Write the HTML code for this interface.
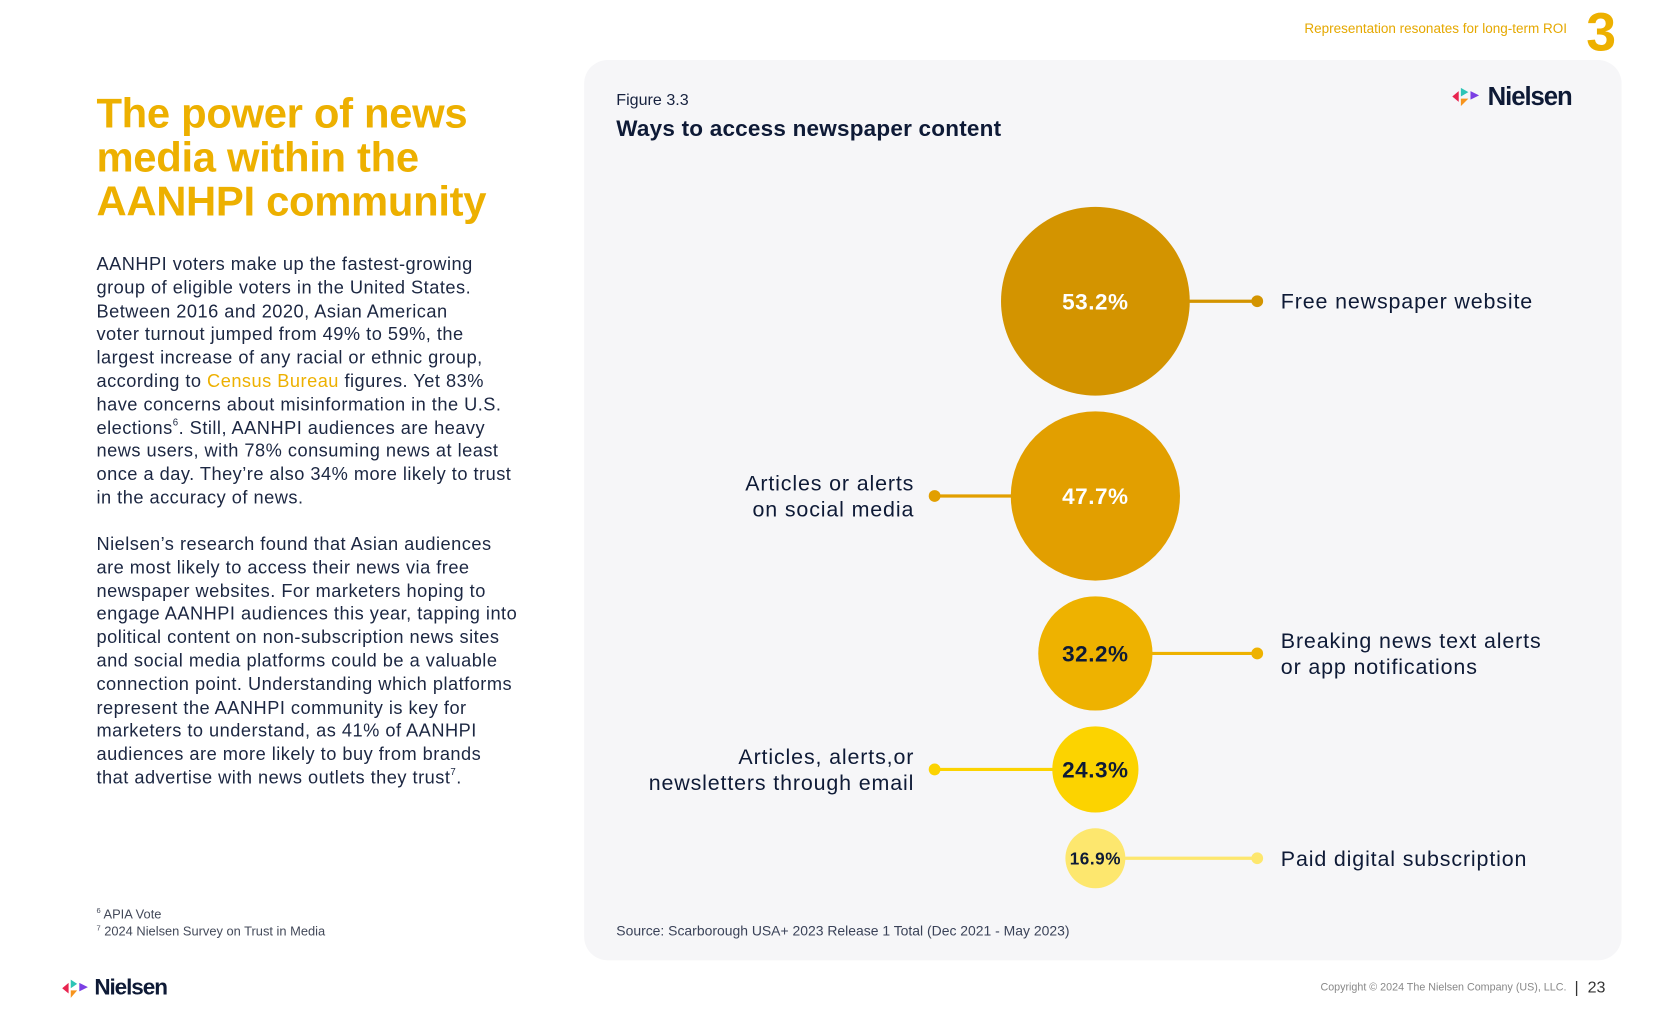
<!DOCTYPE html>
<html><head><meta charset="utf-8">
<style>
html,body{margin:0;padding:0;background:#fff;width:1680px;height:1020px;overflow:hidden}
#wrap{position:absolute;left:0;top:0;width:1568px;height:952px;transform:scale(1.0718);transform-origin:0 0;font-family:"Liberation Sans",sans-serif;color:#16213e}
.abs{position:absolute;white-space:nowrap}
.title{left:90px;top:86px;font-size:39px;font-weight:bold;color:#EDB000;line-height:41px;letter-spacing:-0.3px}
.body{left:90px;font-size:17px;line-height:21.8px;color:#1c2742;letter-spacing:0.45px}
.body sup{font-size:9px;line-height:0;position:relative;top:-1px}
.fn{left:90px;font-size:12px;color:#444a5a;line-height:16px}
.fn sup{line-height:0}
.card{position:absolute;left:545px;top:56px;width:968px;height:840px;background:#f6f6f8;border-radius:22px}
.logo{position:absolute;font-weight:bold;color:#0e1a36;letter-spacing:-1px}
</style></head><body>
<div id="wrap">
  <div class="abs" style="left:1217px;top:20px;font-size:12.6px;color:#E5A800">Representation resonates for long-term ROI</div>
  <div class="abs" style="left:1480px;top:1px;font-size:50px;font-weight:bold;color:#EDB000">3</div>

  <div class="abs title">The power of news<br>media within the<br>AANHPI community</div>

  <div class="abs body" style="top:236px">AANHPI voters make up the fastest-growing<br>group of eligible voters in the United States.<br>Between 2016 and 2020, Asian American<br>voter turnout jumped from 49% to 59%, the<br>largest increase of any racial or ethnic group,<br>according to <span style="color:#EDB000">Census Bureau</span> figures. Yet 83%<br>have concerns about misinformation in the U.S.<br>elections<sup>6</sup>. Still, AANHPI audiences are heavy<br>news users, with 78% consuming news at least<br>once a day. They’re also 34% more likely to trust<br>in the accuracy of news.</div>

  <div class="abs body" style="top:497px">Nielsen’s research found that Asian audiences<br>are most likely to access their news via free<br>newspaper websites. For marketers hoping to<br>engage AANHPI audiences this year, tapping into<br>political content on non-subscription news sites<br>and social media platforms could be a valuable<br>connection point. Understanding which platforms<br>represent the AANHPI community is key for<br>marketers to understand, as 41% of AANHPI<br>audiences are more likely to buy from brands<br>that advertise with news outlets they trust<sup>7</sup>.</div>

  <div class="abs fn" style="top:845px"><sup style="font-size:7px">6</sup> APIA Vote<br><sup style="font-size:7px">7</sup> 2024 Nielsen Survey on Trust in Media</div>

  <div class="abs" style="left:58px;top:910px">
    <svg width="30" height="24" style="position:absolute;left:0;top:2px"><polygon points="0,10 6,5 6,15" fill="#e8244f"/><polygon points="8,2 14,6 8,10" fill="#2ec4b6"/><polygon points="8,12 14,12 8,19" fill="#f7941d"/><polygon points="16,5 24,9 16,13" fill="#7b3fe4"/></svg>
    <span class="logo" style="left:30px;top:0;font-size:21px">Nielsen</span>
  </div>
  <div class="abs" style="left:1232px;top:916px;font-size:10px;color:#888">Copyright © 2024 The Nielsen Company (US), LLC.</div>
  <div class="abs" style="left:1469px;top:913px;font-size:15px;color:#333">|&nbsp; 23</div>

  <div class="card"></div>
  <div class="abs" style="left:575px;top:85px;font-size:15px;color:#16213e">Figure 3.3</div>
  <div class="abs" style="left:575px;top:109px;font-size:21px;font-weight:bold;color:#0e1a36;letter-spacing:0.2px">Ways to access newspaper content</div>
  <div class="abs" style="left:1355px;top:77px">
    <svg width="32" height="26" style="position:absolute;left:0;top:2px"><polygon points="0,11 6,6 6,16" fill="#e8244f"/><polygon points="8,3 15,7 8,11" fill="#2ec4b6"/><polygon points="8,13 15,13 8,20" fill="#f7941d"/><polygon points="17,6 25,10 17,14" fill="#7b3fe4"/></svg>
    <span class="logo" style="left:33px;top:0;font-size:24px">Nielsen</span>
  </div>
  <div class="abs" style="left:575px;top:861px;font-size:13px;color:#3a4258">Source: Scarborough USA+ 2023 Release 1 Total (Dec 2021 - May 2023)</div>

  <svg id="chart" width="1568" height="952" style="position:absolute;left:0;top:0"></svg>
</div>
<script>
const categories = [["Free newspaper website"],["Articles or alerts","on social media"],["Breaking news text alerts","or app notifications"],["Articles, alerts,or","newsletters through email"],["Paid digital subscription"]];
const values = [53.2, 47.7, 32.2, 24.3, 16.9];
const colors = ["#D39400","#E29F00","#EEB200","#FCD300","#FDE76E"];
const textColors = ["#ffffff","#ffffff","#0e1a36","#0e1a36","#0e1a36"];
const sides = ["right","left","right","left","right"];

const NS="http://www.w3.org/2000/svg";
const svg=document.getElementById('chart');
const cx=1022, top0=193, gap=14.7;
function rScale(v){return v*1.655;}
function mk(tag,attrs){const e=document.createElementNS(NS,tag);for(const k in attrs)e.setAttribute(k,attrs[k]);svg.appendChild(e);return e;}
let y=top0;
values.forEach((v,i)=>{
  const r=rScale(v);
  const cy=y+r;
  y=cy+r+gap;
  const c=colors[i];
  const right=sides[i]==="right";
  const dotX=right?1173:872;
  const ln=mk('line',{x1:right?cx+r-2:cx-r+2,y1:cy,x2:dotX,y2:cy,stroke:c,'stroke-width':3});
  
  
  const circ=mk('circle',{cx:cx,cy:cy,r:r,fill:c});
  
  
  const dot=mk('circle',{cx:dotX,cy:cy,r:5.5,fill:c});
  
  
  const fs=v<20?16:21;
  const t=mk('text',{x:cx,y:cy+fs*0.36,'text-anchor':'middle','font-size':fs,'font-weight':'bold','font-family':'"Liberation Sans",sans-serif',fill:textColors[i],'letter-spacing':0.5});
  t.textContent=v.toFixed(1)+'%';
  
  
  const lines=categories[i];
  const lx=right?1195:853;
  lines.forEach((s,j)=>{
    const ly=cy+7+(j-(lines.length-1)/2)*24.5;
    const lt=mk('text',{x:lx,y:ly,'text-anchor':right?'start':'end','font-size':20,'letter-spacing':0.8,'font-family':'"Liberation Sans",sans-serif',fill:'#0e1a36'});
    lt.textContent=s;
    
    
  });
});
</script>
</body></html>
